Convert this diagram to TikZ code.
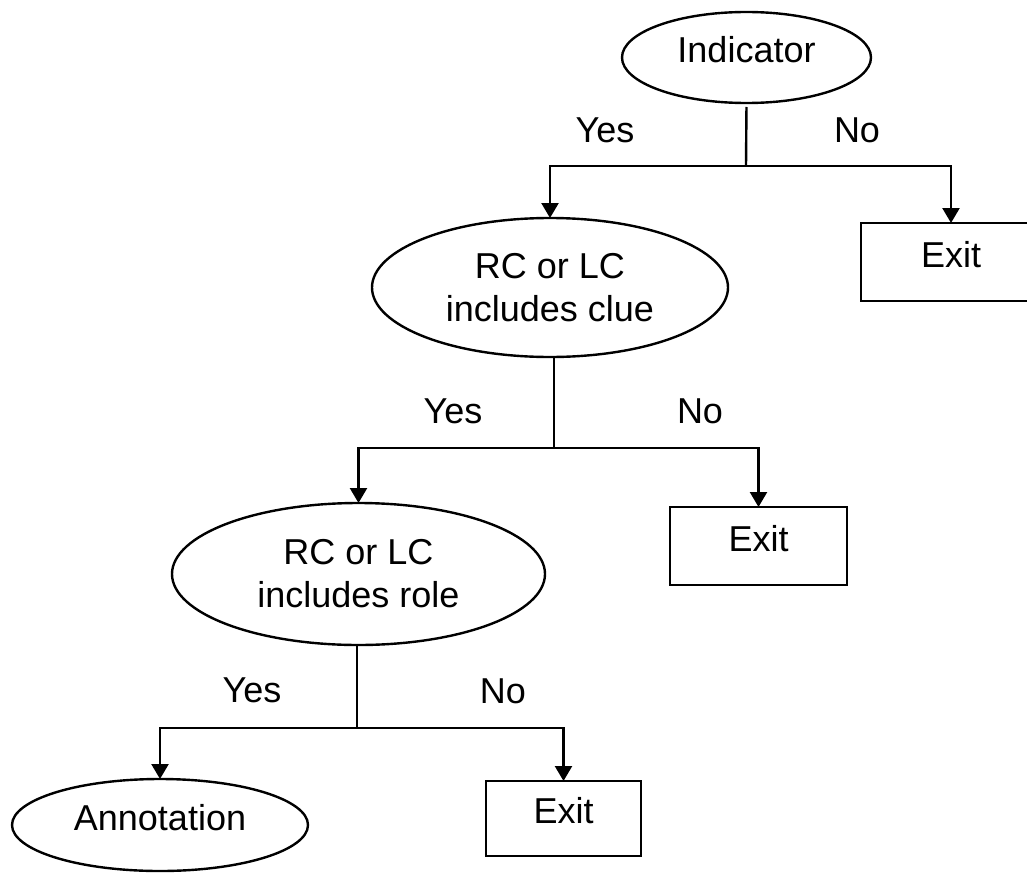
\documentclass[tikz,border=0pt]{standalone}
\usepackage{fontspec}
\setmainfont{Liberation Sans}
\usetikzlibrary{arrows.meta,shapes.geometric}
\begin{document}
\begin{tikzpicture}[x=0.5pt,y=-0.5pt,
  line width=1.2pt,
  every node/.style={font=\fontsize{18}{21.5}\selectfont, inner sep=0pt, outer sep=0pt},
  decision/.style={ellipse, draw, align=center},
  oneline/.style={text height=12.9pt, text depth=7.5pt},
  exitbox/.style={rectangle, draw, oneline},
  flow/.style={-{Triangle[length=7.5pt,width=8.5pt]}},
  answer/.style={anchor=base}]
\useasboundingbox (0,0) rectangle (1027,872);
\clip (0,0) rectangle (1027,872);

% decisions and outcomes
\node[decision, oneline, minimum width=124.5pt, minimum height=45.5pt] (ind) at (746.5,57.5) {Indicator};
\node[decision, minimum width=178pt, minimum height=69.5pt] (clue) at (550,287.5) {RC or LC\\includes clue};
\node[exitbox, minimum width=90pt, minimum height=39pt] (exit1) at (951,262) {Exit};
\node[decision, minimum width=186.5pt, minimum height=71pt] (role) at (358.5,574) {RC or LC\\includes role};
\node[exitbox, minimum width=88.5pt, minimum height=39pt] (exit2) at (758.5,546) {Exit};
\node[decision, oneline, minimum width=148pt, minimum height=46pt] (annot) at (160,825) {Annotation};
\node[exitbox, minimum width=77.5pt, minimum height=37.5pt] (exit3) at (563.5,818.5) {Exit};

% branch points
\coordinate (j1) at (746,166);
\coordinate (j2) at (554,448);
\coordinate (j3) at (357,728);

% connectors
\draw[shorten <=2pt] (ind.south) -- (j1);
\draw[flow] (j1) -| (clue.north);
\draw[flow] (j1) -| (exit1.north);
\draw (clue.south -| j2) -- (j2);
\draw[flow] (j2) -| (role.north);
\draw[flow] (j2) -| (exit2.north);
\draw (role.south -| j3) -- (j3);
\draw[flow] (j3) -| (annot.north);
\draw[flow] (j3) -| (exit3.north);

% branch labels
\node[answer] (y1) at (605,142) {Yes};
\node[answer] (n1) at (857,142) {No};
\node[answer] (y2) at (453,423) {Yes};
\node[answer] (n2) at (700,423) {No};
\node[answer] (y3) at (252,702) {Yes};
\node[answer] (n3) at (503,703) {No};
\end{tikzpicture}
\end{document}
